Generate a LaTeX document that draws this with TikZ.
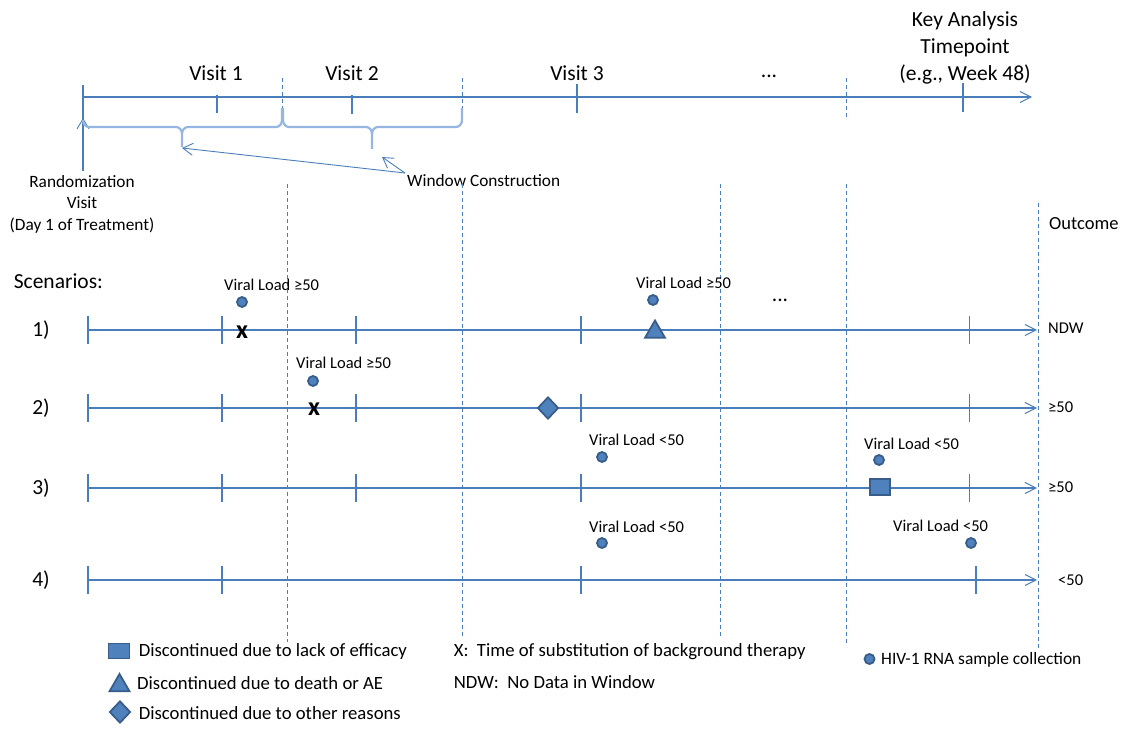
\documentclass[tikz,border=0pt]{standalone}
\usepackage{fontspec}
\setmainfont{Carlito}
\usetikzlibrary{arrows.meta,shapes.geometric}
\definecolor{lineblue}{HTML}{4A7EBB}
\definecolor{fillblue}{HTML}{4F81BD}
\definecolor{edgeblue}{HTML}{385D8A}
\definecolor{braceblue}{HTML}{94B6E0}
\tikzset{
  tl/.style={draw=lineblue, line width=1.1pt},
  tlarrow/.style={tl, -{Straight Barb[length=11pt,width=11pt,line width=1pt]}},
  wcarrow/.style={draw=lineblue, line width=0.9pt, -{Straight Barb[length=10pt,width=12pt,line width=0.9pt]}},
  tickmark/.style={draw=lineblue, line width=1.1pt},
  vdash/.style={draw=lineblue, line width=0.7pt, dash pattern=on 4pt off 3pt},
  brc/.style={draw=braceblue, line width=2.2pt},
  dotm/.style={circle, fill=fillblue, draw=edgeblue, line width=1.8pt, minimum size=10pt, inner sep=0pt},
  trim/.style={regular polygon, regular polygon sides=3, fill=fillblue, draw=edgeblue, line width=1.8pt, minimum size=23pt, inner sep=0pt},
  diam/.style={diamond, fill=fillblue, draw=edgeblue, line width=1.8pt, minimum width=21pt, minimum height=22pt, inner sep=0pt},
  sqm/.style={rectangle, fill=fillblue, draw=edgeblue, line width=1.8pt, minimum width=20pt, minimum height=16pt, inner sep=0pt},
  xm/.style={inner sep=0pt, font=\fontsize{26}{28}\selectfont\bfseries},
  big/.style={inner sep=0pt, font=\fontsize{21.5}{27}\selectfont, align=center},
  scen/.style={inner sep=0pt, font=\fontsize{21.5}{24}\selectfont},
  vl/.style={inner sep=0pt, anchor=west, font=\fontsize{16.5}{19}\selectfont},
  lab/.style={inner sep=0pt, anchor=west, font=\fontsize{17.3}{21.5}\selectfont, align=center},
  leg/.style={inner sep=0pt, anchor=west, font=\fontsize{18.7}{22}\selectfont},
  outc/.style={inner sep=0pt, anchor=west, font=\fontsize{16.5}{19}\selectfont},
}
\begin{document}
\begin{tikzpicture}[x=1pt,y=-1pt]
\useasboundingbox (0,0) rectangle (1134,738);

% ---------- top timeline ----------
\coordinate (t0) at (83,97);
\coordinate (t1) at (1032,97);
\draw[tlarrow] (t0) -- (t1);
\coordinate (rtop) at (83,85);
\coordinate (rbot) at (83,171);
\coordinate (rarr) at (83,118);
\draw[tickmark] (rtop) -- (rbot);
\draw[wcarrow] (rbot) -- (rarr);
\draw[tickmark] (217,95) -- (217,113);
\draw[tickmark] (352,95) -- (352,114);
\draw[tickmark] (577,84) -- (577,113);
\draw[tickmark] (963,83) -- (963,112);
\draw[vdash] (282,78) -- (282,110);
\draw[vdash] (462,78) -- (462,110);
\draw[vdash] (846,78) -- (846,117);

\node[big] (v1) at (216,73) {Visit 1};
\node[big] (v2) at (352,73) {Visit 2};
\node[big] (v3) at (577,73) {Visit 3};
\node[big] (vdots) at (769,76) {...};
\node[big] (key) at (965,48) {Key Analysis\\Timepoint\\(e.g., Week 48)};

% braces
\draw[brc] (83,120) to[out=-90,in=180] (89,127) -- (176,127) to[out=0,in=90] (182,134) -- (182,147);
\draw[brc] (182,134) to[out=90,in=180] (188,127) -- (276,127) to[out=0,in=-90] (282,120) -- (282,108);
\draw[brc] (283,108) -- (283,120) to[out=-90,in=180] (289,127) -- (366,127) to[out=0,in=90] (372,134) -- (372,149);
\draw[brc] (372,134) to[out=90,in=180] (378,127) -- (456,127) to[out=0,in=-90] (462,120) -- (462,108);
\coordinate (tip1) at (182,148);
\coordinate (tip2) at (382,157);

\node[lab] (wc) at (407,181) {Window Construction};
\coordinate (wcs) at (405,173);
\draw[wcarrow] (wcs) -- (tip1);
\draw[wcarrow] (wcs) -- (tip2);

\node[lab, anchor=center] (rand) at (82,204) {Randomization\\Visit\\(Day 1 of Treatment)};

% ---------- lower dashed ----------
\draw[vdash] (287.5,184) -- (287.5,642);
\draw[vdash] (462.5,184) -- (462.5,638);
\draw[vdash] (720,184) -- (720,638);
\draw[vdash] (846,184) -- (846,643);
\draw[vdash] (1038,203) -- (1038,650);

\node[inner sep=0pt, anchor=west, font=\fontsize{18.5}{21}\selectfont] (outc) at (1049,224) {Outcome};
\node[scen, anchor=west] (scn) at (13.6,281) {Scenarios:};

% ---------- scenario lines ----------
\foreach \n/\y in {1/330, 2/408, 3/488, 4/580} {
  \coordinate (s\n a) at (88,\y);
  \coordinate (s\n b) at (1037,\y);
  \draw[tlarrow] (s\n a) -- (s\n b);
  \node[scen] (lab\n) at (41,\y) {\n)};
}
\foreach \y in {330,408,488} {
  \foreach \x in {88,222,356,581,969.5} {
    \draw[tickmark] (\x,\y-14) -- (\x,\y+14);
  }
}
\foreach \x in {88,222,581,976} {
  \draw[tickmark] (\x,566) -- (\x,594);
}

% scenario 1
\node[dotm] (d1a) at (242,302) {};
\node[xm] (x1) at (242,332) {x};
\node[vl] (vl1a) at (224,285) {Viral Load ≥50};
\node[dotm] (d1b) at (653,300) {};
\node[trim] (tr1) at (655,332) {};
\node[vl] (vl1b) at (636,283) {Viral Load ≥50};
\node[scen] (dots1) at (780,300) {...};
\node[outc] (o1) at (1048,328) {NDW};

% scenario 2
\node[dotm] (d2a) at (313,381) {};
\node[xm] (x2) at (314,409) {x};
\node[vl] (vl2a) at (296,363) {Viral Load ≥50};
\node[diam] (dm2) at (548,408) {};
\node[outc] (o2) at (1048,407) {≥50};

% scenario 3
\node[dotm] (d3a) at (602,457) {};
\node[vl] (vl3a) at (589,440) {Viral Load <50};
\node[dotm] (d3b) at (879,460) {};
\node[vl] (vl3b) at (864,444) {Viral Load <50};
\node[sqm] (sq3) at (880,487) {};
\node[outc] (o3) at (1048,487) {≥50};

% scenario 4
\node[dotm] (d4a) at (602,543) {};
\node[vl] (vl4a) at (589,527) {Viral Load <50};
\node[dotm] (d4b) at (971,543) {};
\node[vl] (vl4b) at (893,526) {Viral Load <50};
\node[outc] (o4) at (1058,580) {<50};

% ---------- legend ----------
\node[sqm, minimum width=21pt, minimum height=15pt] (lsq) at (119,651) {};
\node[leg] (lsqt) at (138.6,652) {Discontinued due to lack of efficacy};
\node[trim] (ltr) at (119.5,685.5) {};
\node[leg] (ltrt) at (137,683) {Discontinued due to death or AE};
\node[diam] (ldm) at (120,712) {};
\node[leg] (ldmt) at (138.6,713) {Discontinued due to other reasons};
\node[leg] (lx) at (453.6,652) {X:\ \ Time of substitution of background therapy};
\node[leg] (lndw) at (453.6,682) {NDW:\ \ No Data in Window};
\node[dotm] (ldot) at (869.5,659) {};
\node[inner sep=0pt, anchor=west, font=\fontsize{17.4}{20}\selectfont] (ldott) at (881,660) {HIV-1 RNA sample collection};
\end{tikzpicture}
\end{document}
